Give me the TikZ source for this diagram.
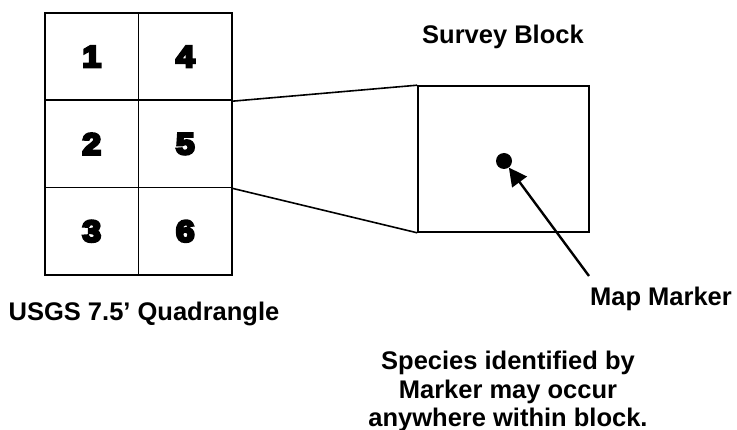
\documentclass[tikz,border=0pt]{standalone}
\usepackage{fontspec}
\setmainfont{Liberation Sans}
\newfontfamily\heavyfont{Liberation Sans Bold}[FakeBold=9,FakeStretch=1.12]
\usetikzlibrary{arrows.meta}
\begin{document}
\begin{tikzpicture}[x=1pt,y=-1pt,
  cell/.style={draw,line width=1.7pt,minimum width=93.5pt,minimum height=87.3pt,inner sep=0pt,
    font=\heavyfont\fontsize{30}{32}\selectfont},
  lbl/.style={font=\bfseries\fontsize{25.5}{28.5}\selectfont,inner sep=0pt,align=center},
  link/.style={line width=1.6pt}]
\useasboundingbox (0,0) rectangle (737,430);
\node[cell] (c1) at (91.75,56.65) {1};
\node[cell] (c4) at (185.25,56.65) {4};
\node[cell] (c2) at (91.75,143.95) {2};
\node[cell] (c5) at (185.25,143.95) {5};
\node[cell] (c3) at (91.75,231.25) {3};
\node[cell] (c6) at (185.25,231.25) {6};
\node[draw,line width=1.6pt,minimum width=171pt,minimum height=146pt,inner sep=0pt] (block) at (503.5,159) {};
\draw[link] (c4.south east) -- (block.north west);
\draw[link] (c5.south east) -- (block.south west);
\node[circle,fill=black,minimum size=16pt,inner sep=0pt] (dot) at (504,161) {};
\coordinate (tail) at (589,276);
\draw[line width=2.4pt,-{Triangle[length=18pt,width=18pt]}] (tail) -- (dot);
\node[lbl] (survey) at (503,37) {Survey Block};
\node[lbl] (mapm) at (661,299) {Map Marker};
\node[lbl] (quad) at (144,313.5) {USGS 7.5’ Quadrangle};
\node[lbl,anchor=north] (species) at (508,351) {Species identified by\\Marker may occur\\anywhere within block.};
\end{tikzpicture}
\end{document}
